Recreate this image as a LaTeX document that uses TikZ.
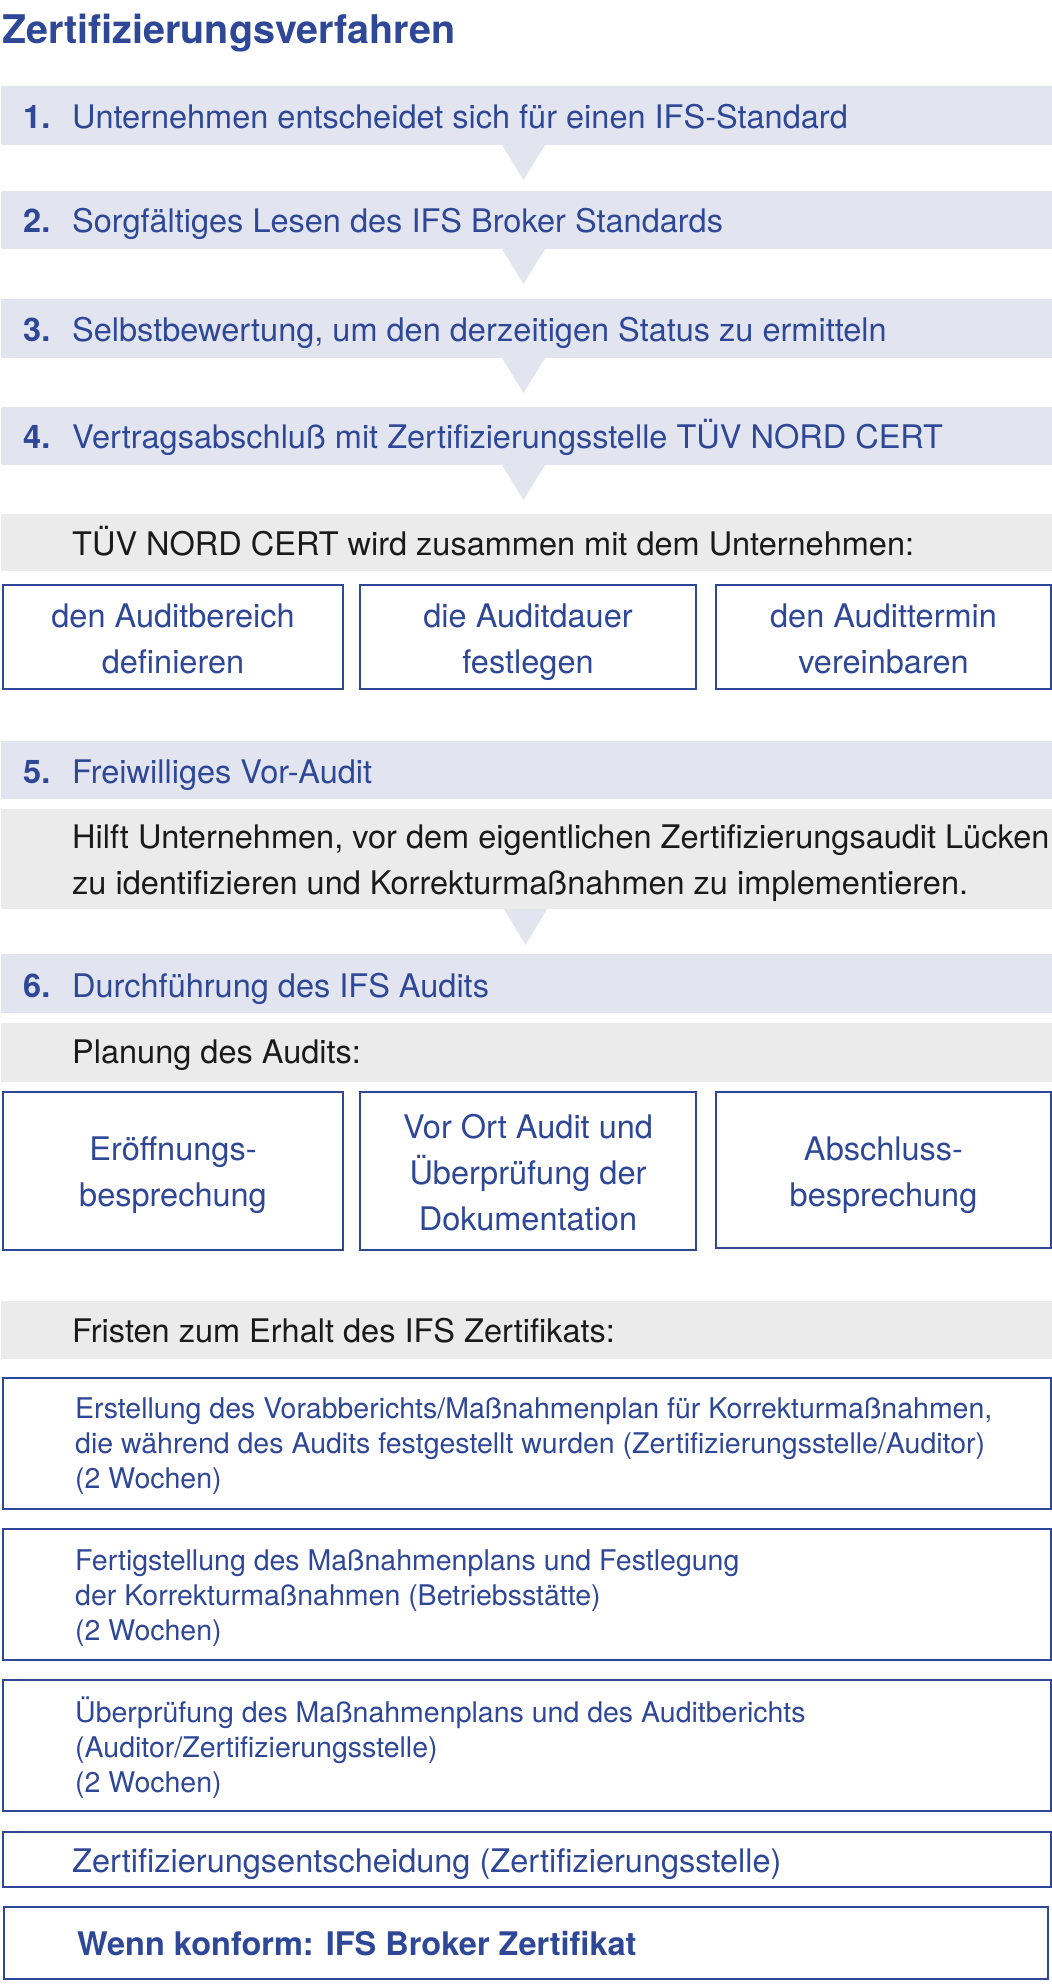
\documentclass[tikz,border=0pt]{standalone}
\usepackage{fontspec}
\setmainfont{TeX Gyre Heros}
\usetikzlibrary{calc}
\definecolor{tblue}{HTML}{2E4797}
\definecolor{lblue}{HTML}{E2E5F0}
\definecolor{lgray}{HTML}{EBEBEB}
\definecolor{tdark}{HTML}{1A1A1A}
\newcommand{\mlines}[2]{\begin{tabular}[t]{@{}#1@{}}#2\end{tabular}}
\newcommand{\stepnum}[1]{\makebox[49pt][l]{\bfseries #1}}
\begin{document}
\begin{tikzpicture}[x=1pt,y=-1pt,
  fillbox/.style={fill=lblue, inner sep=0pt, outer sep=0pt, anchor=north west, minimum width=1051pt},
  graybox/.style={fill=lgray, inner sep=0pt, outer sep=0pt, anchor=north west, minimum width=1051pt},
  linebox/.style={draw=tblue, line width=2pt, inner sep=0pt, outer sep=0pt, anchor=north west},
  big/.style={font=\fontsize{32.5}{46}\selectfont},
  small/.style={font=\fontsize{28.5}{35}\selectfont},
  ltxt/.style={inner sep=0pt, anchor=base west, text=tblue},
  ctxt/.style={inner sep=0pt, anchor=base, text=tblue},
  gtxt/.style={inner sep=0pt, anchor=base west, text=tdark},
  tri/.style={fill=lblue},
]
\useasboundingbox[fill=white] (0,0) rectangle (1052,1984);

% title
\node[ltxt, font=\fontsize{39.5}{48}\selectfont\bfseries] (title) at (2,43) {Zertifizierungsverfahren};

% steps 1-4
\node[fillbox, minimum height=59pt] (s1) at (1,86) {};
\node[ltxt, big] (t1) at (23,128) {\stepnum{1.}Unternehmen entscheidet sich für einen IFS-Standard};
\node[fillbox, minimum height=58pt] (s2) at (1,191) {};
\node[ltxt, big] (t2) at (23,232) {\stepnum{2.}Sorgfältiges Lesen des IFS Broker Standards};
\node[fillbox, minimum height=59pt] (s3) at (1,299) {};
\node[ltxt, big] (t3) at (23,341.5) {\stepnum{3.}Selbstbewertung, um den derzeitigen Status zu ermitteln};
\node[fillbox, minimum height=58pt] (s4) at (1,407) {};
\node[ltxt, big] (t4) at (23,448) {\stepnum{4.}Vertragsabschluß mit Zertifizierungsstelle TÜV NORD CERT};

\foreach \b in {s1,s2,s3,s4}{
  \fill[tri] ($(\b.south west)+(501,0)$) -- ($(\b.south west)+(544,0)$) -- ($(\b.south west)+(522.5,35)$) -- cycle;
}

% TÜV NORD CERT box
\node[graybox, minimum height=57pt] (g4) at (1,514) {};
\node[gtxt, big] (tg4) at (72,555) {TÜV NORD CERT wird zusammen mit dem Unternehmen:};

\node[linebox, minimum width=340pt, minimum height=104pt] (a1) at (3,585) {};
\node[linebox, minimum width=336pt, minimum height=104pt] (a2) at (360,585) {};
\node[linebox, minimum width=335pt, minimum height=104pt] (a3) at (716,585) {};
\node[ctxt, big] (ta1) at (a1.center |- 0,627) {\mlines{c}{den Auditbereich\\definieren}};
\node[ctxt, big] (ta2) at (a2.center |- 0,627) {\mlines{c}{die Auditdauer\\festlegen}};
\node[ctxt, big] (ta3) at (a3.center |- 0,627) {\mlines{c}{den Audittermin\\vereinbaren}};

% step 5
\node[fillbox, minimum height=58pt] (s5) at (1,741) {};
\node[ltxt, big] (t5) at (23,783) {\stepnum{5.}Freiwilliges Vor-Audit};
\node[graybox, minimum height=100pt] (g5) at (1,809) {};
\node[gtxt, big] (tg5) at (72,848) {\mlines{l}{Hilft Unternehmen, vor dem eigentlichen Zertifizierungsaudit Lücken\\zu identifizieren und Korrekturmaßnahmen zu implementieren.}};
\fill[tri] ($(g5.south west)+(503,0)$) -- ($(g5.south west)+(546,0)$) -- ($(g5.south west)+(524.5,36)$) -- cycle;

% step 6
\node[fillbox, minimum height=59pt] (s6) at (1,954) {};
\node[ltxt, big] (t6) at (23,997) {\stepnum{6.}Durchführung des IFS Audits};
\node[graybox, minimum height=59pt] (g6) at (1,1023) {};
\node[gtxt, big] (tg6) at (72,1063) {Planung des Audits:};

\node[linebox, minimum width=340pt, minimum height=158pt] (b1) at (3,1092) {};
\node[linebox, minimum width=336pt, minimum height=158pt] (b2) at (360,1092) {};
\node[linebox, minimum width=335pt, minimum height=156pt] (b3) at (716,1092) {};
\node[ctxt, big] (tb1) at (b1.center |- 0,1160) {\mlines{c}{Eröffnungs-\\besprechung}};
\node[ctxt, big] (tb2) at (b2.center |- 0,1138) {\mlines{c}{Vor Ort Audit und\\Überprüfung der\\Dokumentation}};
\node[ctxt, big] (tb3) at (b3.center |- 0,1160) {\mlines{c}{Abschluss-\\besprechung}};

% Fristen
\node[graybox, minimum height=58pt] (g7) at (1,1301) {};
\node[gtxt, big] (tg7) at (72,1342) {Fristen zum Erhalt des IFS Zertifikats:};

\node[linebox, minimum width=1048pt, minimum height=131pt] (f1) at (3,1378) {};
\node[ltxt, small] (tf1) at (75,1418) {\mlines{l}{Erstellung des Vorabberichts/Maßnahmenplan für Korrekturmaßnahmen,\\die während des Audits festgestellt wurden (Zertifizierungsstelle/Auditor)\\(2 Wochen)}};
\node[linebox, minimum width=1048pt, minimum height=131pt] (f2) at (3,1529) {};
\node[ltxt, small] (tf2) at (75,1570) {\mlines{l}{Fertigstellung des Maßnahmenplans und Festlegung\\der Korrekturmaßnahmen (Betriebsstätte)\\(2 Wochen)}};
\node[linebox, minimum width=1048pt, minimum height=131pt] (f3) at (3,1680) {};
\node[ltxt, small] (tf3) at (75,1722) {\mlines{l}{Überprüfung des Maßnahmenplans und des Auditberichts\\(Auditor/Zertifizierungsstelle)\\(2 Wochen)}};
\node[linebox, minimum width=1048pt, minimum height=55pt] (f4) at (3,1832) {};
\node[ltxt, big] (tf4) at (72,1872) {Zertifizierungsentscheidung (Zertifizierungsstelle)};
\node[linebox, minimum width=1044pt, minimum height=72pt] (f5) at (4,1907) {};
\node[ltxt, big] (tf5) at (77,1955) {\bfseries Wenn konform: IFS Broker Zertifikat};
\end{tikzpicture}
\end{document}
